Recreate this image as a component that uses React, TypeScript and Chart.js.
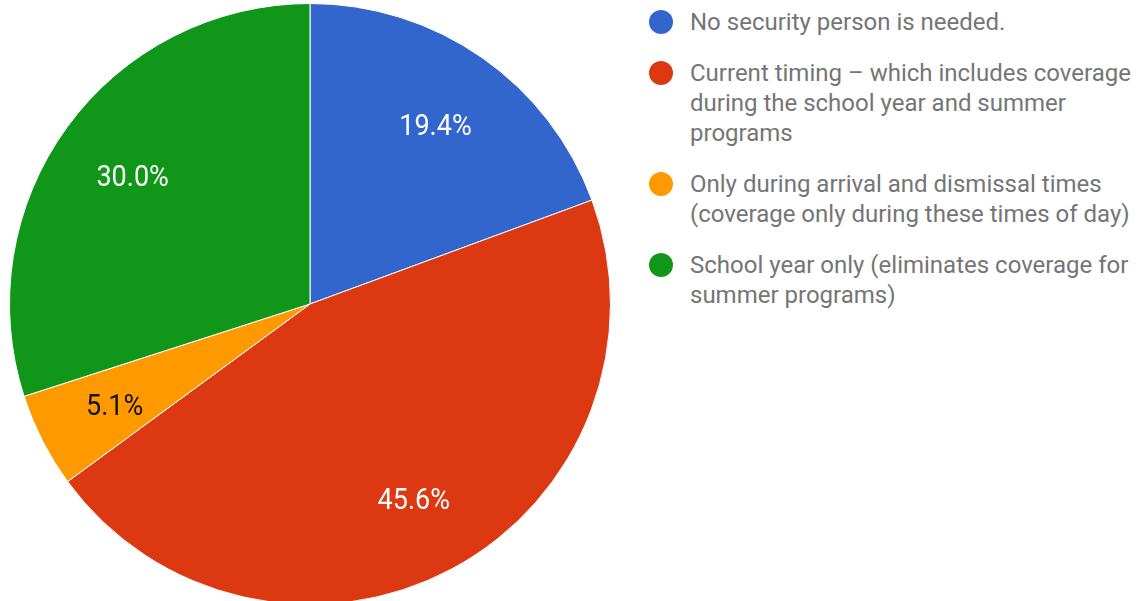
import React, { useEffect, useRef } from "react";
import { Chart, registerables } from "chart.js";

Chart.register(...registerables);

const labels: string[] = [
  "No security person is needed.",
  "Current timing – which includes coverage\nduring the school year and summer\nprograms",
  "Only during arrival and dismissal times\n(coverage only during these times of day)",
  "School year only (eliminates coverage for\nsummer programs)",
];
const values: number[] = [19.4, 45.6, 5.1, 30.0];
const colors: string[] = ["#3366cc", "#dc3912", "#ff9900", "#109618"];
const labelColors: string[] = ["#ffffff", "#ffffff", "#111111", "#ffffff"];

const FONT = "Roboto, 'Noto Sans', sans-serif";

const sliceLabels = {
  id: "sliceLabels",
  afterDatasetsDraw(chart: any) {
    const ctx = chart.ctx;
    const meta = chart.getDatasetMeta(0);
    meta.data.forEach((arc: any, i: number) => {
      const p = arc.getProps(["x", "y", "startAngle", "endAngle", "outerRadius"], true);
      const mid = (p.startAngle + p.endAngle) / 2;
      const r = p.outerRadius * 0.73;
      ctx.save();
      ctx.font = `27px ${FONT}`;
      ctx.textAlign = "center";
      ctx.textBaseline = "middle";
      ctx.fillStyle = labelColors[i];
      ctx.translate(p.x + Math.cos(mid) * r, p.y + Math.sin(mid) * r + 4);
      ctx.scale(1, 1.1);
      ctx.fillText(values[i].toFixed(1) + "%", 0, 0);
      ctx.restore();
    });
  },
};

export default function App() {
  const ref = useRef<HTMLCanvasElement | null>(null);
  useEffect(() => {
    if (!ref.current) return;
    const chart = new Chart(ref.current, {
      type: "pie",
      data: {
        labels,
        datasets: [
          {
            data: values,
            backgroundColor: colors,
            borderColor: "#ffffff",
            borderWidth: 1,
          },
        ],
      },
      options: {
        animation: false,
        responsive: true,
        maintainAspectRatio: false,
        layout: { padding: 0 },
        plugins: {
          legend: { display: false },
          tooltip: { enabled: false },
        },
      },
      plugins: [sliceLabels],
    });
    return () => chart.destroy();
  }, []);

  return (
    <div style={{ position: "fixed", inset: 0, overflow: "hidden", background: "#fff" }}>
      <div style={{ position: "absolute", left: 9, top: 3, width: 602, height: 602 }}>
        <canvas ref={ref} />
      </div>
      <div style={{ position: "absolute", left: 649, top: 7, fontFamily: FONT, fontSize: 24, lineHeight: "30px", color: "#757575" }}>
        {labels.map((l, i) => (
          <div key={i} style={{ position: "relative", paddingLeft: 41, marginBottom: 21, whiteSpace: "pre" }}>
            <span
              style={{
                position: "absolute",
                left: 0,
                top: 3,
                width: 24,
                height: 24,
                borderRadius: "50%",
                background: colors[i],
              }}
            />
            {l}
          </div>
        ))}
      </div>
    </div>
  );
}
